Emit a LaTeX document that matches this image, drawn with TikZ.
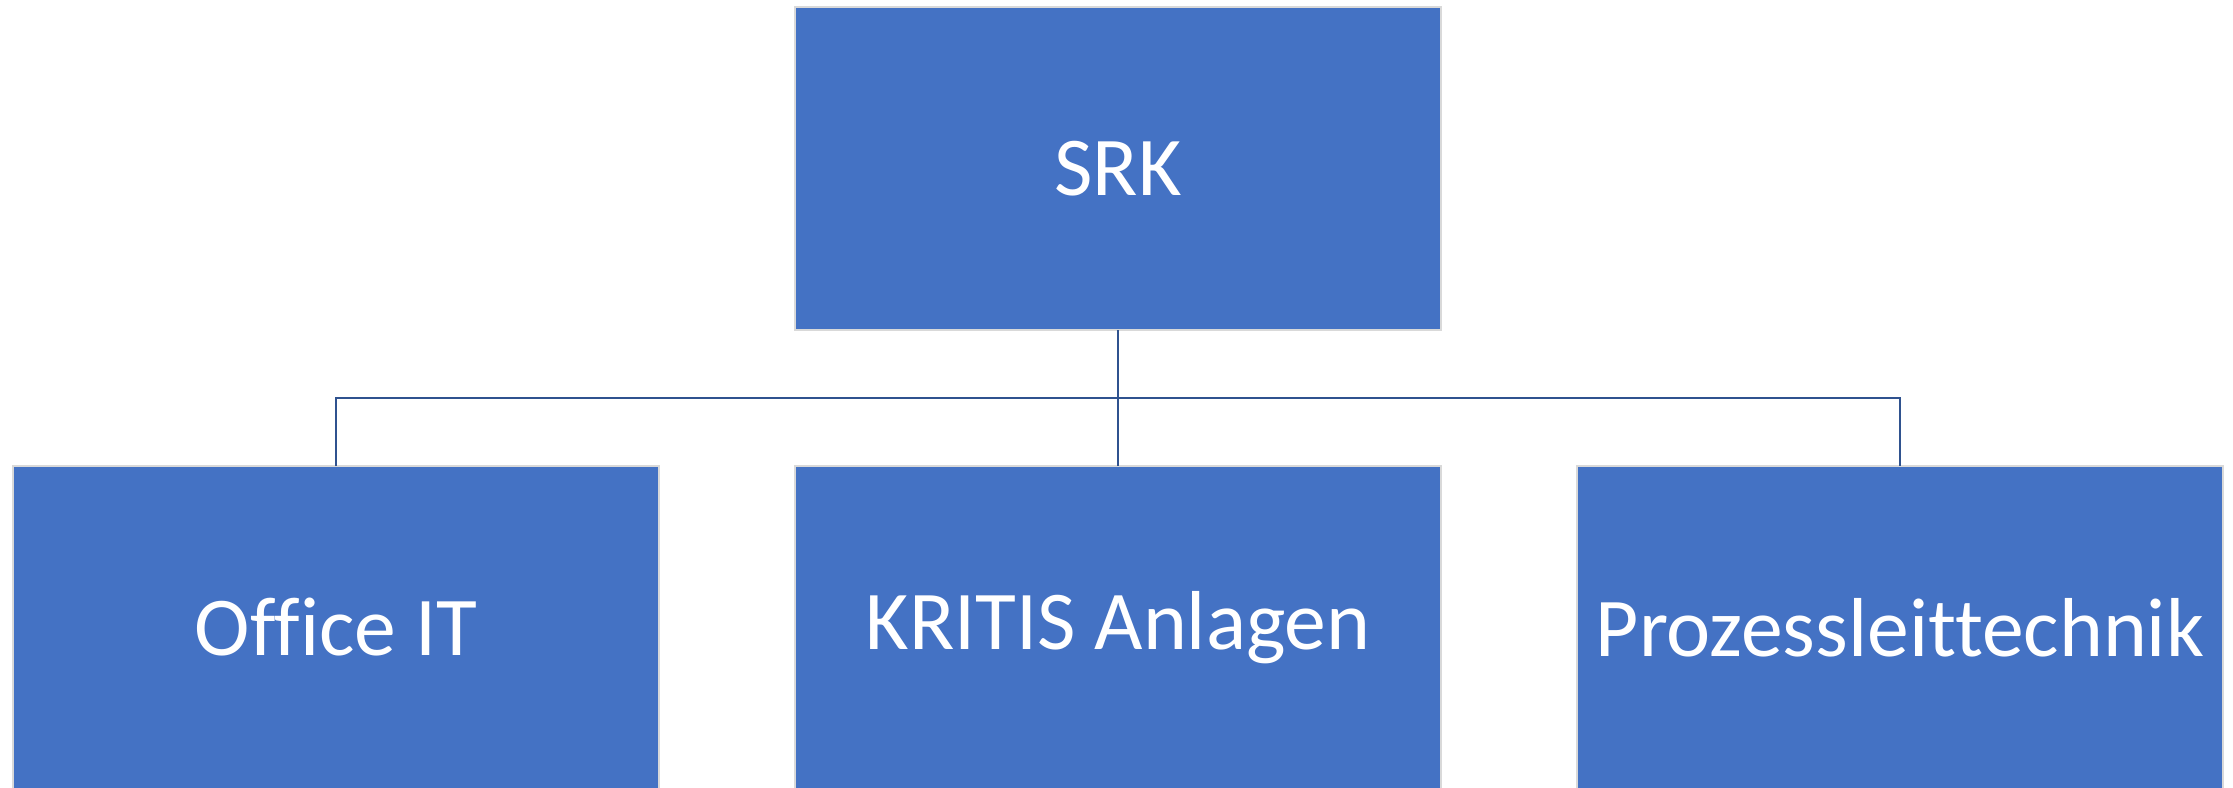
\documentclass[tikz,border=0pt]{standalone}
\usepackage{fontspec}
\setmainfont{Carlito}[Ligatures=CommonOff]
\usepackage{tikz}
\usetikzlibrary{positioning,calc}
\usepackage{xcolor}
\definecolor{boxblue}{HTML}{4472C4}
\definecolor{linkblue}{HTML}{2F528F}
\definecolor{rimgray}{HTML}{D9D9D9}

\begin{document}
\begin{tikzpicture}[
    orgbox/.style={draw=rimgray, line width=0.6pt, fill=boxblue, text=white,
        minimum width=6.46cm, minimum height=3.23cm, inner sep=0pt, outer sep=0pt,
        font=\fontsize{23.8}{28}\selectfont},
    link/.style={draw=linkblue, line width=0.7pt},
    node distance=1.36cm]
            \useasboundingbox (0,0) rectangle (22.33,7.87);

            % Level 0
            \node[orgbox] (srk) at (11.18,6.185) {SRK};

            % Level 1
            \node[orgbox, below=of srk] (kritis) {KRITIS Anlagen};
            \node[orgbox, left=of kritis] (office) {Office IT};
            \node[orgbox, right=of kritis] (plt) {Prozessleittechnik};

            % Connectors
            \coordinate (bus) at ($(srk.south)!0.5!(kritis.north)$);
            \draw[link] (srk.south) -- (kritis.north);
            \draw[link] (office.north) |- (bus) -| (plt.north);
        \end{tikzpicture}
\end{document}
